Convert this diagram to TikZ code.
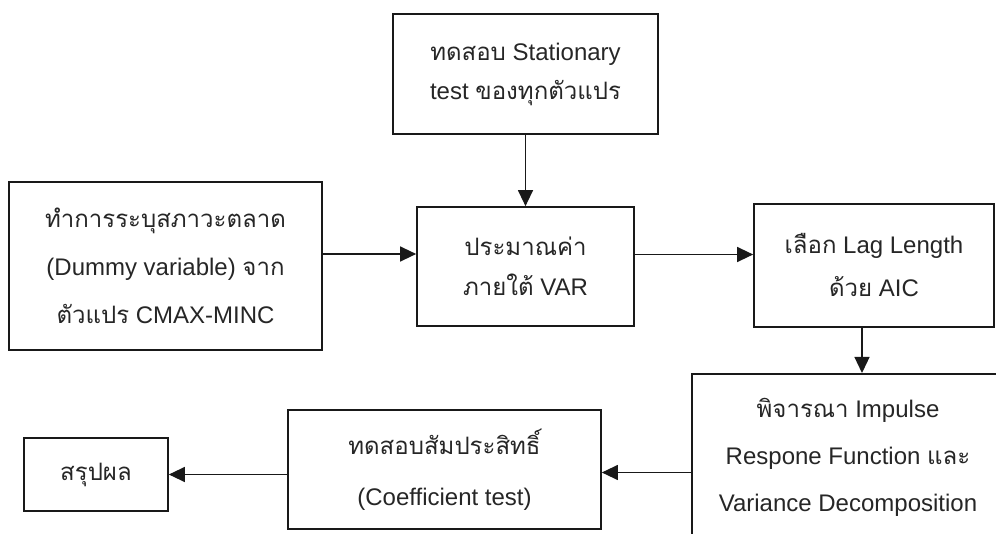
\documentclass[tikz,border=0pt]{standalone}
\usepackage{fontspec}
\setmainfont{Liberation Sans}
\newfontfamily\thaifont[Script=Thai]{Loma}
\usetikzlibrary{arrows.meta}

\newcommand{\tht}[1]{{\thaifont #1}}

\tikzset{
  flowbox/.style={draw=black!90, line width=1.7pt, align=center, inner sep=0pt,
    text=black!85, font=\fontsize{24}{46}\selectfont},
  flow/.style={line width=1.3pt, draw=black!90, -{Triangle[length=16pt,width=15pt]}}
}

\begin{document}
\begin{tikzpicture}[x=1pt,y=-1pt]
  \useasboundingbox (0,0) rectangle (996,534);
  \clip (0,0) rectangle (996,534);
  % boxes
  \node[flowbox, minimum width=265pt, minimum height=120pt, font=\fontsize{24}{39}\selectfont]
    (stat) at (525.5,74) {\tht{ทดสอบ} Stationary\\test \tht{ของทุกตัวแปร}};
  \node[flowbox, minimum width=313pt, minimum height=168pt, font=\fontsize{24}{48}\selectfont]
    (mark) at (165.5,266) {\tht{ทำการระบุสภาวะตลาด}\\(Dummy variable) \tht{จาก}\\\tht{ตัวแปร} CMAX-MINC};
  \node[flowbox, minimum width=217pt, minimum height=119pt, font=\fontsize{24}{40}\selectfont]
    (var) at (525.5,266.5) {\tht{ประมาณค่า}\\\tht{ภายใต้} VAR};
  \node[flowbox, minimum width=240pt, minimum height=123pt, font=\fontsize{24}{43}\selectfont]
    (lag) at (874,265.5) {\tht{เลือก} Lag Length\\\tht{ด้วย} AIC};
  \node[flowbox, minimum width=312pt, minimum height=224pt, anchor=north, font=\fontsize{24}{47}\selectfont]
    (irf) at (848,373) {\tht{พิจารณา} Impulse\\Respone Function \tht{และ}\\Variance Decomposition\\\strut};
  \node[flowbox, minimum width=313pt, minimum height=119pt, font=\fontsize{24}{51}\selectfont]
    (coef) at (444.5,469.5) {\tht{ทดสอบสัมประสิทธิ์}\\(Coefficient test)};
  \node[flowbox, minimum width=144pt, minimum height=73pt]
    (concl) at (96,474.5) {\tht{สรุปผล}};
  % connectors
  \draw[flow] (stat.south) -- (var.north);
  \draw[flow] ([yshift=12pt]mark.east) -- ([yshift=12pt]mark.east -| var.west);
  \draw[flow] ([yshift=12pt]var.east) -- ([yshift=12pt]var.east -| lag.west);
  \draw[flow] ([xshift=-12pt]lag.south) -- ([xshift=-12pt]lag.south |- irf.north);
  \draw[flow] ([yshift=-3pt]coef.east -| irf.west) -- ([yshift=-3pt]coef.east);
  \draw[flow] (coef.west |- concl.east) -- (concl.east);
\end{tikzpicture}
\end{document}
